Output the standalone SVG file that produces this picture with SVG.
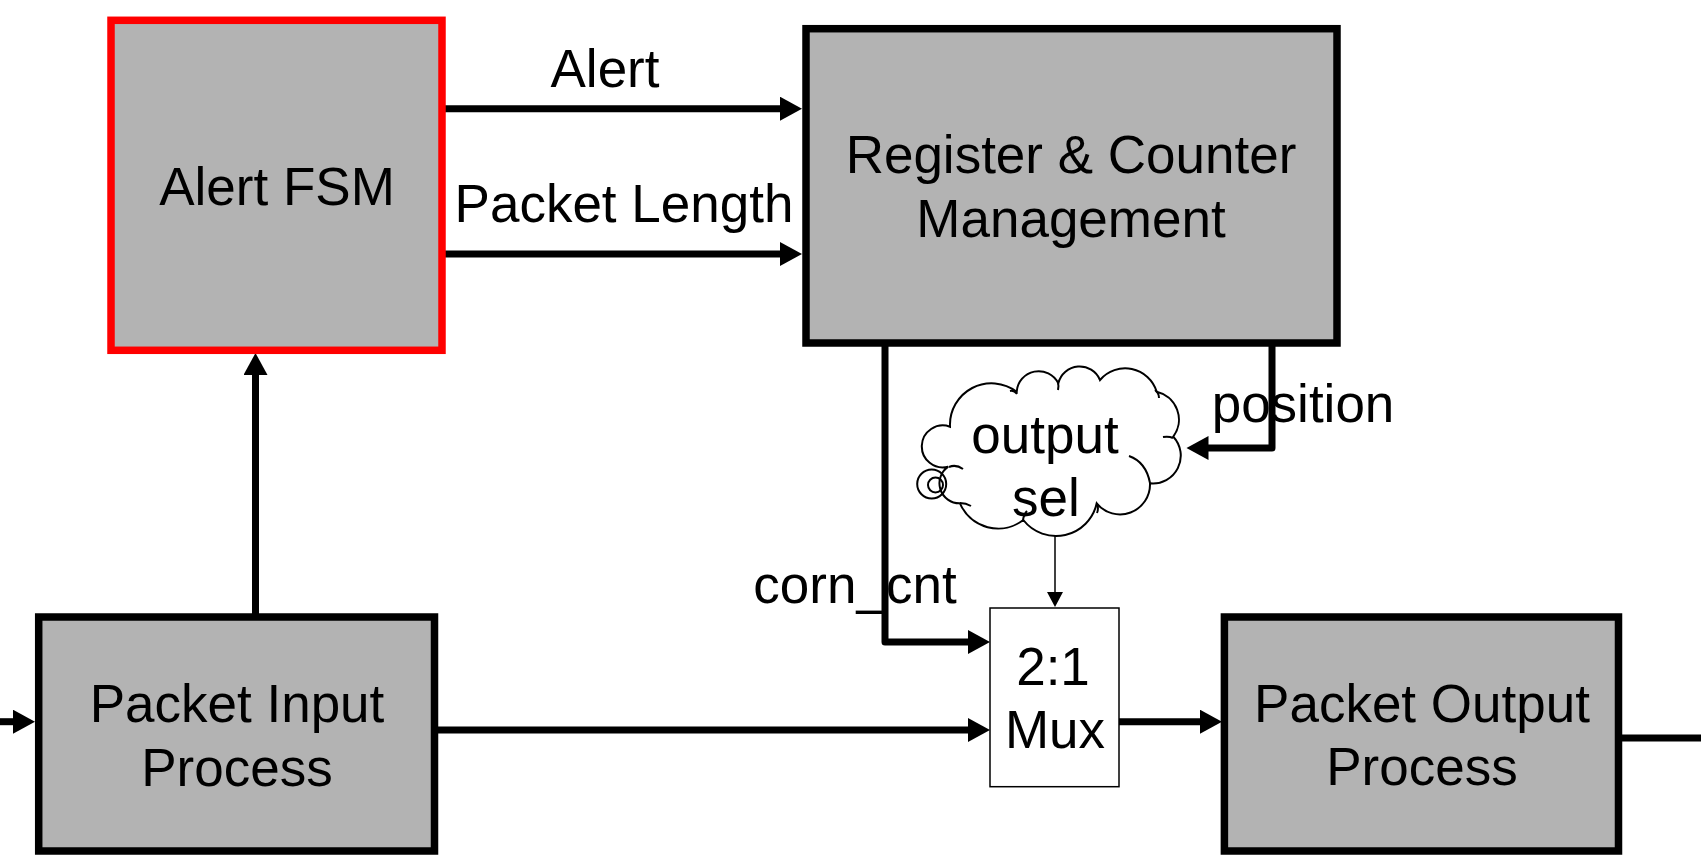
<svg xmlns="http://www.w3.org/2000/svg" width="1701" height="860" viewBox="0 0 1701 860">
<style>
.box{fill:#b3b3b3;stroke:#000;stroke-width:7.5}
.red{fill:#b3b3b3;stroke:#ff0000;stroke-width:7.5}
.mux{fill:#fff;stroke:#000;stroke-width:1.5}
.lbl{font-family:"Liberation Sans",Arial,sans-serif;font-size:53px;fill:#000;text-anchor:middle}
.w{fill:none;stroke:#000;stroke-width:7;stroke-linejoin:round}
.thin{fill:none;stroke:#000;stroke-width:1.5}
.cl{fill:#fff;stroke:#000;stroke-width:2}
.hk{fill:none;stroke:#000;stroke-width:2}
</style>
<defs>
<marker id="ah" markerUnits="userSpaceOnUse" markerWidth="24" markerHeight="26" refX="12" refY="12" orient="auto">
<path d="M0,0 L22,12 L0,24 z" fill="#000"/>
</marker>
<marker id="ahs" markerUnits="userSpaceOnUse" markerWidth="18" markerHeight="18" refX="12" refY="8" orient="auto">
<path d="M0,0 L15,8 L0,16 z" fill="#000"/>
</marker>
</defs>
<rect width="1701" height="860" fill="#fff"/>

<g id="connectors">
<line class="w" x1="443" y1="108.7" x2="792" y2="108.7" marker-end="url(#ah)"/>
<line class="w" x1="443" y1="254" x2="792" y2="254" marker-end="url(#ah)"/>
<line class="w" x1="255.5" y1="617" x2="255.5" y2="363" marker-end="url(#ah)"/>
<line class="w" x1="0" y1="721.7" x2="25" y2="721.7" marker-end="url(#ah)"/>
<line class="w" x1="434" y1="730" x2="980" y2="730" marker-end="url(#ah)"/>
<polyline class="w" points="885,343 885,642 980,642" marker-end="url(#ah)"/>
<polyline class="w" points="1272,343 1272,448 1196.5,448" marker-end="url(#ah)"/>
<line class="w" x1="1119" y1="721.7" x2="1212" y2="721.7" marker-end="url(#ah)"/>
<line class="w" x1="1622" y1="738" x2="1701" y2="738"/>
<line class="thin" x1="1055" y1="536" x2="1055" y2="604" marker-end="url(#ahs)"/>
</g>

<g id="alert-fsm">
<rect class="red" x="111" y="20.3" width="331" height="330"/>
<text class="lbl" x="277" y="205">Alert FSM</text>
</g>

<g id="register-counter">
<rect class="box" x="806" y="28.7" width="531" height="314.3"/>
<text class="lbl" x="1071" y="173">Register &amp; Counter</text>
<text class="lbl" x="1071" y="237">Management</text>
</g>

<g id="packet-input">
<rect class="box" x="38.7" y="617" width="395.8" height="234"/>
<text class="lbl" x="237" y="721.7">Packet Input</text>
<text class="lbl" x="237" y="786">Process</text>
</g>

<g id="mux">
<rect class="mux" x="990" y="608" width="129" height="178.7"/>
<text class="lbl" x="1053" y="685">2:1</text>
<text class="lbl" x="1055" y="748">Mux</text>
</g>

<g id="packet-output">
<rect class="box" x="1224.4" y="617" width="394.1" height="234"/>
<text class="lbl" x="1422" y="721.7">Packet Output</text>
<text class="lbl" x="1422" y="785">Process</text>
</g>

<g id="output-sel">
<path class="cl" d="M948.3,466.7 A21,21 0 1 1 950,426.7 A41.6,41.6 0 0 1 1016.7,391.7 A22,22 0 0 1 1058.3,383.3 A22,22 0 0 1 1100,380 A33,33 0 0 1 1156.7,391.7 A28.7,28.7 0 0 1 1173.3,436.7 A27.8,27.8 0 0 1 1150,483.3 A30,30 0 0 1 1096.7,503.3 A41.6,41.6 0 0 1 1023.3,520 A41.4,41.4 0 0 1 960,503.3 A20,20 0 0 1 948.3,466.7 Z"/>
<path class="hk" d="M949,467 Q956,464 963,469"/>
<path class="hk" d="M1010,391 Q1014,390 1017,394"/>
<path class="hk" d="M1058,383 Q1059,386 1058,390"/>
<path class="hk" d="M1155,390 Q1159,393 1159,398"/>
<path class="hk" d="M1163,437 Q1169,436 1173,438"/>
<path class="hk" d="M1129,456 Q1146,462 1150,483"/>
<path class="hk" d="M1096.7,503.3 Q1099,508 1097,513"/>
<path class="hk" d="M1023,520 Q1024,514 1027,511"/>
<path class="hk" d="M960,503 Q966,503 971,506"/>
<circle class="hk" cx="931.7" cy="484" r="14.5"/>
<circle class="hk" cx="935.5" cy="485" r="7.5"/>
<text class="lbl" x="1045" y="453">output</text>
<text class="lbl" x="1046" y="516">sel</text>
</g>

<g id="labels">
<text class="lbl" x="605" y="86.7">Alert</text>
<text class="lbl" x="624" y="221.7">Packet Length</text>
<text class="lbl" x="855" y="603">corn_cnt</text>
<text class="lbl" x="1303" y="422">position</text>
</g>
</svg>
